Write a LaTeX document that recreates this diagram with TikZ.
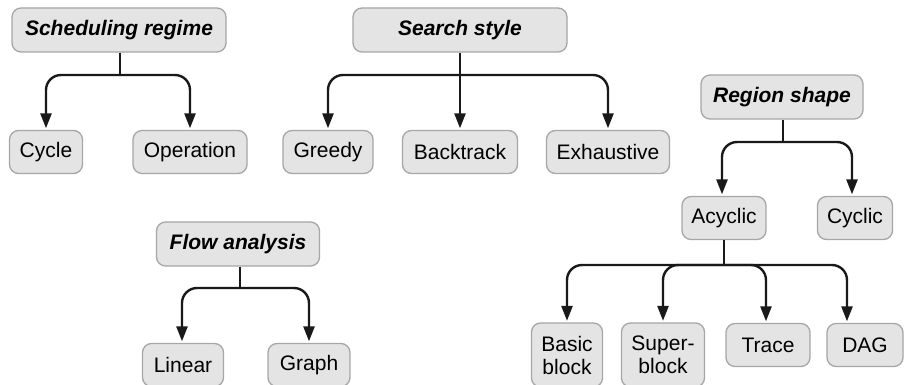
\documentclass[tikz,border=0pt]{standalone}
\usepackage{fontspec}
\setmainfont{Liberation Sans}
\usepackage{tikz}
\usetikzlibrary{arrows.meta, positioning, calc}

\definecolor{boxfill}{HTML}{E4E4E4}
\definecolor{boxline}{HTML}{A6A6A6}

\begin{document}
\begin{tikzpicture}[
    x=1pt, y=-1pt,
    catbox/.style={rectangle, draw=boxline, fill=boxfill, line width=1.3pt, rounded corners=9pt, minimum height=44pt, inner xsep=10pt, font=\fontsize{21}{23}\selectfont\bfseries\itshape},
    leafbox/.style={rectangle, draw=boxline, fill=boxfill, line width=1.3pt, rounded corners=9pt, minimum height=43pt, inner xsep=7pt, align=center, font=\fontsize{21}{23}\selectfont},
    stem/.style={line width=2.4pt, draw=black!90},
    branch/.style={stem, rounded corners=15pt, -{Triangle[length=15pt, width=11pt]}, shorten >=1.5pt}
]
    \useasboundingbox (0,0) rectangle (906,385);

    % scheduling regime
    \node (sr) [catbox, minimum width=214pt] at (119,30) {Scheduling regime};
    \node (cyc) [leafbox, minimum width=73pt] at (46,152) {Cycle};
    \node (op) [leafbox, minimum width=114pt] at (190,152) {Operation};
    \coordinate (srj) at (120,75);

    % search style
    \node (ss) [catbox, minimum width=214pt] at (460,30) {Search style};
    \node (gr) [leafbox, minimum width=90pt] at (328,152) {Greedy};
    \node (bt) [leafbox, minimum width=115pt] at (460,152) {Backtrack};
    \node (ex) [leafbox, minimum width=123pt] at (608,152) {Exhaustive};
    \coordinate (ssj) at (460,75);

    % region shape
    \node (rs) [catbox, minimum width=162pt] at (782,97) {Region shape};
    \node (acy) [leafbox, minimum width=84pt] at (724,218) {Acyclic};
    \node (cy) [leafbox, minimum width=75pt] at (855,218) {Cyclic};
    \coordinate (rsj) at (783,142);

    \node (bb) [leafbox, minimum width=71pt, minimum height=64pt] at (567,355) {Basic\\block};
    \node (sb) [leafbox, minimum width=83pt, minimum height=64pt] at (663,355) {Super-\\block};
    \node (tr) [leafbox, minimum width=84pt] at (768,345) {Trace};
    \node (dag) [leafbox, minimum width=76pt] at (865,345) {DAG};
    \coordinate (acj) at (724,265);

    % flow analysis
    \node (fa) [catbox, minimum width=163pt] at (238,244) {Flow analysis};
    \node (lin) [leafbox, minimum width=81pt] at (183,365) {Linear};
    \node (gp) [leafbox, minimum width=82pt] at (309,365) {Graph};
    \coordinate (faj) at (240,288);

    \draw[stem] (sr.south -| srj) -- (srj);
    \draw[branch] (srj) -| (cyc.north);
    \draw[branch] (srj) -| (op.north);

    \draw[stem] (ss.south) -- (ssj);
    \draw[branch] (ssj) -| (gr.north);
    \draw[branch] (ssj) -- (bt.north);
    \draw[branch] (ssj) -| (ex.north);

    \draw[stem] (rs.south -| rsj) -- (rsj);
    \draw[branch] (rsj) -| ([xshift=-2pt]acy.north);
    \draw[branch] (rsj) -| ([xshift=-3pt]cy.north);

    \draw[stem] (acy.south) -- (acj);
    \draw[branch] (acj) -| (bb.north);
    \draw[branch] (acj) -| (sb.north);
    \draw[branch] (acj) -| ([xshift=-2pt]tr.north);
    \draw[branch] (acj) -| ([xshift=-18pt]dag.north);

    \draw[stem] (fa.south -| faj) -- (faj);
    \draw[branch] (faj) -| ([xshift=-1pt]lin.north);
    \draw[branch] (faj) -| (gp.north);
\end{tikzpicture}
\end{document}
